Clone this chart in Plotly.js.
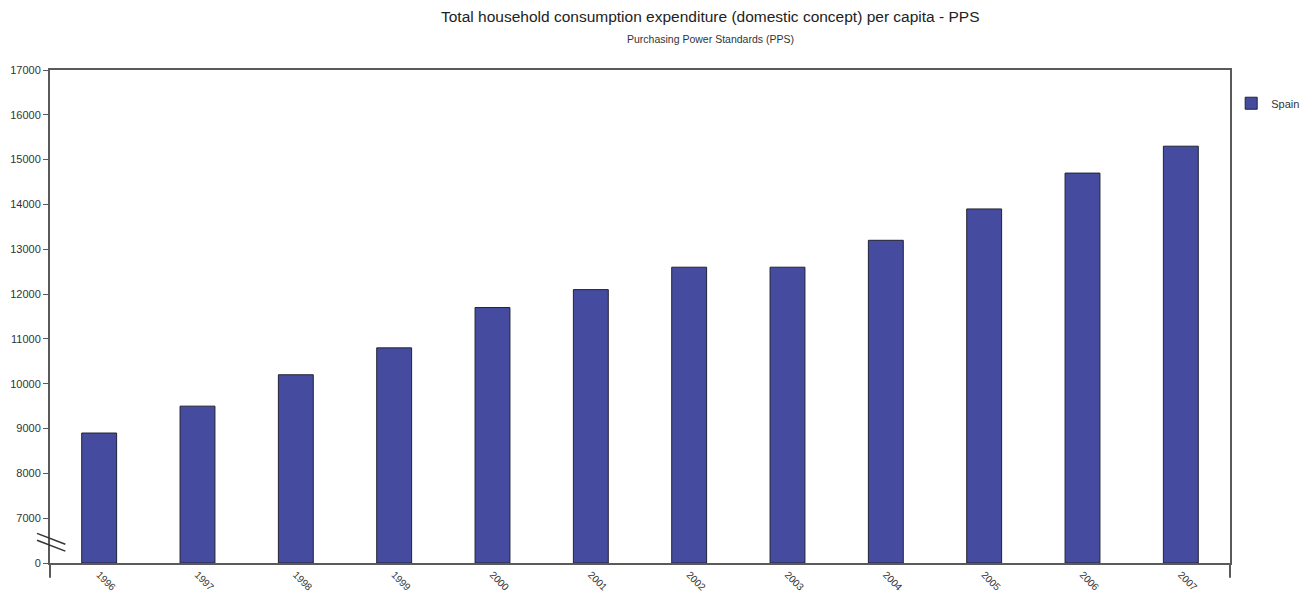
<!DOCTYPE html>
<html>
<head>
<meta charset="utf-8">
<script src="https://cdn.plot.ly/plotly-3.0.1.min.js"></script>
<style>
  html, body { margin: 0; padding: 0; background: #fff; }
  #chart { width: 1308px; height: 598px; }
</style>
</head>
<body>
<div id="chart"></div>
<script>
// Spain, household consumption expenditure per capita (PPS)
const years = ['1996', '1997', '1998', '1999', '2000', '2001', '2002', '2003', '2004', '2005', '2006', '2007'];
const spain = [8900, 9500, 10200, 10800, 11700, 12100, 12600, 12600, 13200, 13900, 14700, 15300];

// Broken value axis: the bottom step stands for 0, the rest runs 7000-17000
const axisFloor = 6000;
const tickVals = [6000, 7000, 8000, 9000, 10000, 11000, 12000, 13000, 14000, 15000, 16000, 17000];
const tickText = ['0', '7000', '8000', '9000', '10000', '11000', '12000', '13000', '14000', '15000', '16000', '17000'];

const axisColor = '#5a5a5a';
const textColor = '#333333';
const font = 'Liberation Sans, Arial, sans-serif';

const trace = {
  type: 'bar',
  name: 'Spain',
  x: years,
  y: spain.map(v => v - axisFloor),
  base: axisFloor,
  width: 0.355,
  marker: { color: '#454ca0', line: { color: '#222233', width: 1 } },
  hoverinfo: 'x+text',
  text: spain.map(String),
  textposition: 'none'
};

const layout = {
  width: 1308,
  height: 598,
  margin: { l: 50, r: 78, t: 70, b: 35, autoexpand: false },
  paper_bgcolor: '#ffffff',
  plot_bgcolor: '#ffffff',
  font: { family: font, color: textColor, size: 11 },
  showlegend: true,
  legend: {
    x: 1.001, y: 0.962, xanchor: 'left', yanchor: 'top',
    font: { size: 11, color: textColor },
    bgcolor: 'rgba(0,0,0,0)'
  },
  xaxis: {
    type: 'category',
    showline: true, linecolor: axisColor, linewidth: 2,
    mirror: true,
    showgrid: false, zeroline: false,
    ticks: '', tickangle: 45,
    tickfont: { size: 10, color: textColor }
  },
  yaxis: {
    range: [axisFloor, 17000],
    showline: true, linecolor: axisColor, linewidth: 2,
    mirror: true,
    showgrid: false, zeroline: false,
    tickmode: 'array', tickvals: tickVals, ticktext: tickText,
    ticks: 'outside', ticklen: 5, tickcolor: axisColor, tickwidth: 1,
    tickfont: { size: 11, color: textColor }
  },
  annotations: [
    {
      text: 'Total household consumption expenditure (domestic concept) per capita - PPS',
      xref: 'paper', yref: 'paper', x: 0.56, y: 1.108,
      xanchor: 'center', yanchor: 'middle', showarrow: false,
      font: { size: 15.5, color: '#222222', family: font }
    },
    {
      text: 'Purchasing Power Standards (PPS)',
      xref: 'paper', yref: 'paper', x: 0.56, y: 1.063,
      xanchor: 'center', yanchor: 'middle', showarrow: false,
      font: { size: 10.5, color: textColor, family: font }
    }
  ],
  shapes: [
    // axis break marks
    { type: 'line', xref: 'paper', yref: 'paper', x0: -0.011, x1: 0.013, y0: 0.06, y1: 0.038,
      line: { color: '#333333', width: 1.5 } },
    { type: 'line', xref: 'paper', yref: 'paper', x0: -0.011, x1: 0.013, y0: 0.046, y1: 0.024,
      line: { color: '#333333', width: 1.5 } },
    // frame edges running below the category axis
    { type: 'line', xref: 'paper', yref: 'paper', x0: 0, x1: 0, y0: 0, y1: -0.03,
      line: { color: axisColor, width: 2 } },
    { type: 'line', xref: 'paper', yref: 'paper', x0: 1, x1: 1, y0: 0, y1: -0.03,
      line: { color: axisColor, width: 2 } }
  ]
};

Plotly.newPlot('chart', [trace], layout, { displayModeBar: false, staticPlot: true });
</script>
</body>
</html>
